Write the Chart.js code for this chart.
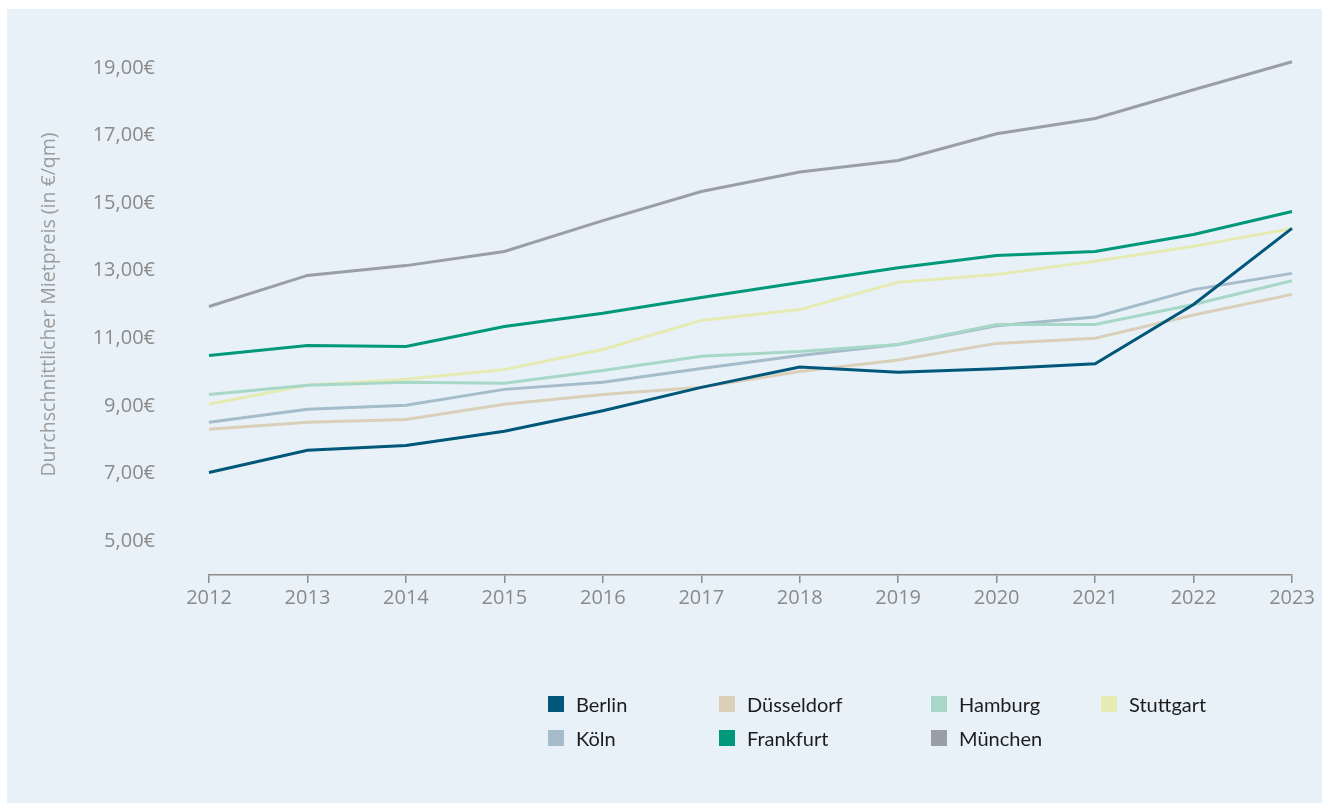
<!DOCTYPE html>
<html lang="de">
<head>
<meta charset="utf-8">
<title>Mietpreise</title>
<script src="https://cdn.jsdelivr.net/npm/chart.js@4/dist/chart.umd.min.js"></script>
<style>
  html, body { margin: 0; padding: 0; background: #ffffff; }
  body { width: 1325px; height: 803px; position: relative; overflow: hidden; }
  #panel {
    position: absolute; left: 7px; top: 9px; width: 1315px; height: 794px;
    background: #e8f1f7;
  }
  #chart-wrap { position: absolute; left: 0; top: 0; width: 1325px; height: 803px; }
  #legend {
    position: absolute; left: 548px; top: 692px;
    display: grid; grid-template-columns: 171px 212px 170px auto;
    row-gap: 10px;
    font-family: Lato, "Open Sans", sans-serif; font-size: 20px; color: #1c1c1c;
  }
  .item { display: flex; align-items: center; height: 24px; }
  .box { width: 16px; height: 16px; margin-right: 12px; flex: none; }
</style>
</head>
<body>
<div id="panel"></div>
<div id="chart-wrap"><canvas id="chart" width="1325" height="803"></canvas></div>
<div id="legend"></div>
<script>
const years = ["2012", "2013", "2014", "2015", "2016", "2017", "2018", "2019", "2020", "2021", "2022", "2023"];
const cities = ["Berlin", "Düsseldorf", "Hamburg", "Stuttgart", "Köln", "Frankfurt", "München"];
const cityColors = ["#00577a", "#dad0ba", "#a7d7c7", "#e5ebb3", "#a5bccb", "#00987b", "#9a9ea8"];

// Durchschnittliche Mietpreise in €/qm
const berlin = [7.03, 7.69, 7.83, 8.25, 8.86, 9.55, 10.15, 10.0, 10.1, 10.25, 12.0, 14.25];
const duesseldorf = [8.31, 8.52, 8.6, 9.05, 9.34, 9.55, 10.02, 10.36, 10.85, 11.0, 11.69, 12.3];
const hamburg = [9.34, 9.61, 9.7, 9.67, 10.05, 10.47, 10.61, 10.82, 11.41, 11.41, 12.0, 12.7];
const stuttgart = [9.05, 9.61, 9.79, 10.08, 10.67, 11.53, 11.85, 12.66, 12.89, 13.28, 13.72, 14.25];
const koeln = [8.52, 8.9, 9.02, 9.49, 9.7, 10.11, 10.49, 10.82, 11.37, 11.63, 12.44, 12.92];
const frankfurt = [10.49, 10.79, 10.76, 11.35, 11.74, 12.21, 12.65, 13.09, 13.45, 13.57, 14.07, 14.75];
const muenchen = [11.94, 12.86, 13.15, 13.57, 14.48, 15.34, 15.92, 16.26, 17.05, 17.5, 18.35, 19.18];

const yTicks = [5, 7, 9, 11, 13, 15, 17, 19];

const series = [berlin, duesseldorf, hamburg, stuttgart, koeln, frankfurt, muenchen];

const euro = (v) => v.toFixed(2).replace(".", ",") + "€";

const buildChart = () => {
  const datasets = cities.map((name, i) => ({
    label: name,
    data: series[i],
    borderColor: cityColors[i],
    backgroundColor: cityColors[i],
    borderWidth: 3,
    pointRadius: 0,
    tension: 0,
    fill: false,
  }));

  const chart = new Chart(document.getElementById("chart"), {
    type: "line",
    data: { labels: years, datasets: datasets },
    options: {
      responsive: false,
      animation: false,
      layout: { padding: { top: 34, right: 33, left: 0, bottom: 0 } },
      plugins: {
        legend: { display: false },
        tooltip: { enabled: false },
      },
      scales: {
        x: {
          offset: false,
          border: { display: true, color: "#8c8c8c", width: 1.5 },
          grid: { drawOnChartArea: false, drawTicks: true, tickLength: 8, color: "#8c8c8c", lineWidth: 1.5 },
          ticks: { color: "#8a8a8a", font: { family: "Open Sans", size: 20 }, padding: 3, maxRotation: 0 },
          afterFit: (scale) => { scale.height = 228; },
        },
        y: {
          min: 4,
          max: 20,
          border: { display: false },
          grid: { display: false, drawTicks: false },
          afterBuildTicks: (scale) => { scale.ticks = yTicks.map(v => ({ value: v })); },
          ticks: {
            color: "#8a8a8a",
            font: { family: "Open Sans", size: 20 },
            padding: 54,
            callback: (v) => euro(v),
          },
          title: {
            display: true,
            text: "Durchschnittlicher Mietpreis (in €/qm)",
            color: "#9c9c9c",
            font: { family: "Open Sans", size: 19.5 },
            padding: { top: 38, bottom: 0 },
          },
          // fixed axis width; the big label padding must not push the plot down
          afterFit: (scale) => {
            scale.width = 209;
            scale.paddingTop = 0;
            scale.paddingBottom = 0;
          },
        },
      },
    },
  });

  // legend built from the chart's datasets
  const legendEl = document.getElementById("legend");
  chart.data.datasets.forEach((ds) => {
    const item = document.createElement("div");
    item.className = "item";
    const box = document.createElement("span");
    box.className = "box";
    box.style.background = ds.borderColor;
    const text = document.createElement("span");
    text.textContent = ds.label;
    item.appendChild(box);
    item.appendChild(text);
    legendEl.appendChild(item);
  });
};

document.fonts.load('20px "Open Sans"').then(buildChart, buildChart);
</script>
</body>
</html>
